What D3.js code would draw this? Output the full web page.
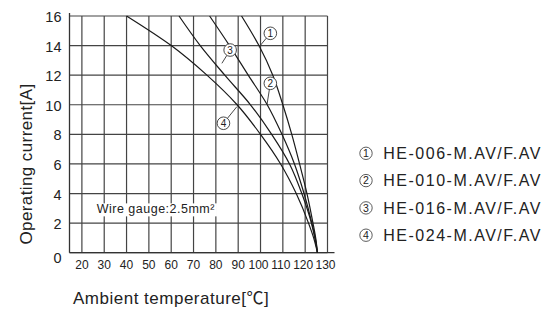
<!DOCTYPE html>
<html>
<head>
<meta charset="utf-8">
<script src="https://cdn.jsdelivr.net/npm/d3@7"></script>
<style>
  body { margin: 0; background: #fff; }
  text { font-family: "Liberation Sans", Arial, Helvetica, sans-serif; fill: #222; }
</style>
</head>
<body>
<div id="chart"></div>
<script>
// values
const currentLevels = [16, 14, 12, 10, 8, 6, 4, 2, 1, 0];
const curve1 = [91.5, 99.3, 105.5, 110, 114, 117.5, 120.8, 123.5, 124.7, 125.5];
const curve2 = [77.2, 86.1, 94.5, 103, 109.6, 115.2, 119.5, 123, 124.5, 125.5];
const curve3 = [63.5, 73, 84, 95.5, 105, 113, 118.5, 122.8, 124.3, 125.5];
const curve4 = [40, 60, 76, 89.5, 100, 109, 116, 121.5, 123.8, 125.5];

const xTicks = [20, 30, 40, 50, 60, 70, 80, 90, 100, 110, 120, 130];
const yTicks = [0, 2, 4, 6, 8, 10, 12, 14, 16];

const seriesMarks = ["1", "2", "3", "4"];
const seriesNames = ["HE-006-M.AV/F.AV", "HE-010-M.AV/F.AV", "HE-016-M.AV/F.AV", "HE-024-M.AV/F.AV"];

// circled number callouts (temperature, current) and where their leader touches the curve
const markTemp = [104.4, 104.4, 86.4, 83.4];
const markCurrent = [14.83, 11.45, 13.7, 8.75];
const leaderTemp = [99.3, 102.9, 82.7, 89.4];
const leaderCurrent = [13.9, 10.0, 12.8, 9.87];

const margins = {top: 16, right: 222.5, bottom: 58.3, left: 69.5};
const width = 550 - margins.left - margins.right;
const height = 311 - margins.top - margins.bottom;

const svg = d3.select("#chart")
    .append("svg")
    .attr("width", 550)
    .attr("height", 311);

const g = svg.append("g")
    .attr("transform", "translate(" + margins.left + "," + margins.top + ")");

const x = d3.scaleLinear().domain([14.45, 130]).range([0, width]);
const y = d3.scaleLinear().domain([0, 16]).range([height, 0]);

//grid
g.append("g").selectAll("line")
    .data(xTicks)
    .enter()
    .append("line")
    .attr("x1", d => x(d)).attr("x2", d => x(d))
    .attr("y1", 0).attr("y2", height)
    .attr("stroke", "#444")
    .attr("stroke-width", 1.2);

g.append("g").selectAll("line")
    .data(yTicks)
    .enter()
    .append("line")
    .attr("x1", 0).attr("x2", width)
    .attr("y1", d => y(d)).attr("y2", d => y(d))
    .attr("stroke", "#444")
    .attr("stroke-width", 1.2);

//axis lines
g.append("line")
    .attr("x1", 0).attr("x2", 0)
    .attr("y1", -3).attr("y2", height)
    .attr("stroke", "#333").attr("stroke-width", 1.3);
g.append("line")
    .attr("x1", 0).attr("x2", width + 7)
    .attr("y1", height).attr("y2", height)
    .attr("stroke", "#333").attr("stroke-width", 1.3);

//tick labels
g.append("g").selectAll("text")
    .data(yTicks)
    .enter()
    .append("text")
    .attr("x", -8)
    .attr("y", d => y(d) + (d === 0 ? 5 : 1))
    .attr("dy", "0.35em")
    .attr("text-anchor", "end")
    .style("font-size", "14.5px")
    .text(d => d);

g.append("g").selectAll("text")
    .data(xTicks)
    .enter()
    .append("text")
    .attr("x", d => x(d) - (d >= 100 ? 2 : 0))
    .attr("y", height + 11.6)
    .attr("dy", "0.35em")
    .attr("text-anchor", "middle")
    .style("font-size", "12px")
    .text(d => d);

//axis titles
g.append("text")
    .attr("text-anchor", "middle")
    .attr("transform", "rotate(-90)")
    .attr("x", -148)
    .attr("y", -43.5)
    .attr("dy", "0.35em")
    .style("font-size", "17px")
    .style("letter-spacing", "0.4px")
    .text("Operating current[A]");

const xTitle = g.append("text")
    .attr("text-anchor", "start")
    .attr("x", 3.5)
    .attr("y", 282)
    .attr("dy", "0.35em")
    .style("font-size", "17px")
    .style("letter-spacing", "0.5px");
xTitle.append("tspan").text("Ambient temperature[");
xTitle.append("tspan")
    .style("font-family", "'Noto Sans CJK JP', 'Noto Sans CJK SC', sans-serif")
    .text("℃");
xTitle.append("tspan").text("]");

//wire gauge note with white box over the grid
const noteBox = g.append("rect").attr("fill", "#fff");
const note = g.append("text")
    .attr("x", 27.2)
    .attr("y", 193)
    .attr("dy", "0.35em")
    .style("font-size", "12.5px")
    .style("letter-spacing", "0.5px")
    .text("Wire gauge:2.5mm²");
const nb = note.node().getBBox();
noteBox
    .attr("x", nb.x - 3).attr("y", nb.y + 1)
    .attr("width", nb.width + 5).attr("height", nb.height - 1);

//curves
const line = d3.line()
    .x(d => x(d.t))
    .y(d => y(d.i))
    .curve(d3.curveMonotoneY);

const series = [curve1, curve2, curve3, curve4].map(c => c.map((t, k) => ({t: t, i: currentLevels[k]})));

g.append("g").selectAll("path")
    .data(series)
    .enter()
    .append("path")
    .attr("d", line)
    .attr("fill", "none")
    .attr("stroke", "#1a1a1a")
    .attr("stroke-width", 1.2);

//callouts
const r = 6.3;
const callouts = g.append("g").selectAll("g")
    .data(seriesMarks)
    .enter()
    .append("g");

function edgePoint(k) {
    const cx = x(markTemp[k]), cy = y(markCurrent[k]);
    const ex = x(leaderTemp[k]), ey = y(leaderCurrent[k]);
    const len = Math.hypot(ex - cx, ey - cy);
    return [cx + (ex - cx) / len * r, cy + (ey - cy) / len * r];
}

callouts.append("line")
    .attr("x1", (d, k) => edgePoint(k)[0])
    .attr("y1", (d, k) => edgePoint(k)[1])
    .attr("x2", (d, k) => x(leaderTemp[k]))
    .attr("y2", (d, k) => y(leaderCurrent[k]))
    .attr("stroke", "#333")
    .attr("stroke-width", 0.9);

callouts.append("circle")
    .attr("cx", (d, k) => x(markTemp[k]))
    .attr("cy", (d, k) => y(markCurrent[k]))
    .attr("r", r)
    .attr("fill", "#fff")
    .attr("stroke", "#333")
    .attr("stroke-width", 0.9);

callouts.append("text")
    .attr("x", (d, k) => x(markTemp[k]))
    .attr("y", (d, k) => y(markCurrent[k]))
    .attr("dy", "0.36em")
    .attr("text-anchor", "middle")
    .style("font-size", "10px")
    .text(d => d);

//legend on the right
const legend = svg.append("g")
    .attr("transform", "translate(366,153.3)");

const rows = legend.selectAll("g")
    .data(seriesNames)
    .enter()
    .append("g")
    .attr("transform", (d, k) => "translate(0," + (k * 27.3) + ")");

rows.append("circle")
    .attr("r", 6.2)
    .attr("fill", "none")
    .attr("stroke", "#333")
    .attr("stroke-width", 0.8);

rows.append("text")
    .attr("text-anchor", "middle")
    .attr("dy", "0.36em")
    .style("font-size", "10.5px")
    .text((d, k) => seriesMarks[k]);

rows.append("text")
    .attr("x", 17.3)
    .attr("dy", "0.36em")
    .style("font-size", "16px")
    .style("letter-spacing", "1.5px")
    .text(d => d);
</script>
</body>
</html>
